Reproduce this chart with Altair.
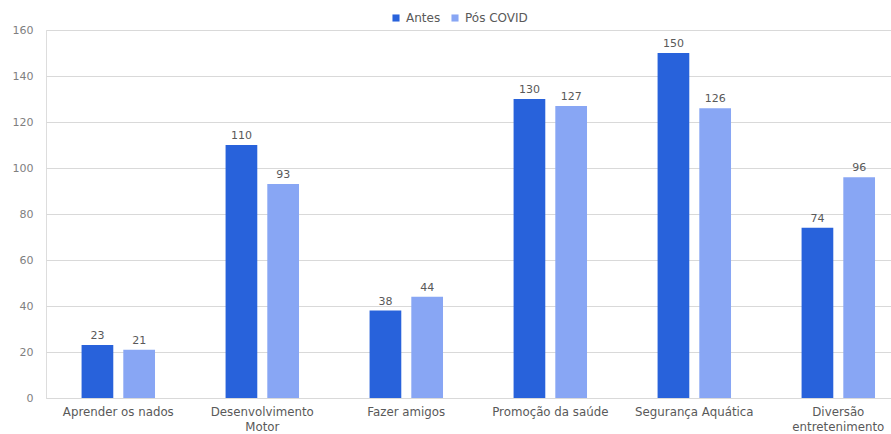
import altair as alt
import pandas as pd

categories = ["Aprender os nados", "Desenvolvimento Motor", "Fazer amigos",
              "Promoção da saúde", "Segurança Aquática", "Diversão entretenimento"]
antes = [23, 110, 38, 130, 150, 74]
pos_covid = [21, 93, 44, 127, 126, 96]
series = ["Antes", "Pós COVID"]
colors = ["#2862DB", "#88A6F4"]

rows = []
for c, a, p in zip(categories, antes, pos_covid):
    rows.append({"cat": c, "serie": series[0], "valor": a})
    rows.append({"cat": c, "serie": series[1], "valor": p})
df = pd.DataFrame(rows)

FONT = "DejaVu Sans"
label_expr = ("datum.label == 'Desenvolvimento Motor' ? ['Desenvolvimento', 'Motor'] : "
              "datum.label == 'Diversão entretenimento' ? ['Diversão', 'entretenimento'] : datum.label")

x = alt.X("cat:N", sort=categories, title=None,
          scale=alt.Scale(paddingInner=0.49, paddingOuter=0.179, align=0.69),
          axis=alt.Axis(labelAngle=0, labelExpr=label_expr, ticks=False, domainColor="#d9d9d9",
                        labelColor="#595959", labelFont=FONT, labelFontSize=11.8, labelPadding=8,
                        labelLineHeight=15))
xo = alt.XOffset("serie:N", sort=series, scale=alt.Scale(paddingInner=0.24))
y = alt.Y("valor:Q", title=None,
          scale=alt.Scale(domain=[0, 160]),
          axis=alt.Axis(values=list(range(0, 161, 20)), ticks=False, domain=False,
                        gridColor="#d9d9d9", labelColor="#7f7f7f", labelFont=FONT,
                        labelFontSize=11, labelPadding=13))

base = alt.Chart(df)
bars = base.mark_bar().encode(
    x=x, xOffset=xo, y=y,
    color=alt.Color("serie:N", sort=series, scale=alt.Scale(domain=series, range=colors),
                    legend=alt.Legend(title=None, orient="none", direction="horizontal",
                                      legendX=344, legendY=-18, symbolType="square",
                                      symbolSize=50, labelFont=FONT, labelFontSize=12,
                                      labelColor="#595959", columnPadding=8, symbolOpacity=1)),
)
labels = base.mark_text(dy=-9, font=FONT, fontSize=11, color="#595959").encode(
    x=x, xOffset=xo, y=y, text="valor:Q")

chart = (bars + labels).properties(
    width=845, height=368,
    autosize=alt.AutoSizeParams(type="none"),
    padding={"left": 46, "top": 30, "right": 0, "bottom": 36},
).configure_view(stroke=None).configure(background="white")

chart.save("out.html", embed_options={"renderer": "svg", "actions": False})
